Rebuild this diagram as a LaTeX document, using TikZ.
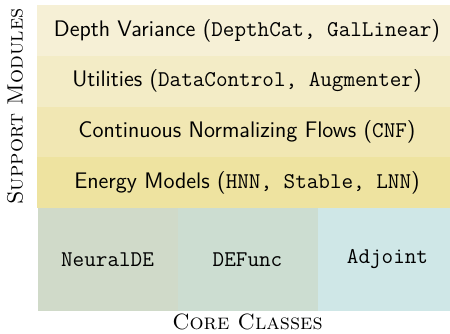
\documentclass[tikz,border=0pt]{standalone}
\begin{document}
\begin{tikzpicture}[x=0.5pt,y=-0.5pt,
  every node/.style={font=\fontsize{11.05}{13.3}\selectfont},
  rowbox/.style={draw=none,minimum width=210pt,minimum height=25.4pt,inner sep=0pt,font=\fontsize{11.25}{13.5}\selectfont\sffamily},
  corebox/.style={draw=none,minimum width=70pt,minimum height=51.5pt,inner sep=0pt,font=\fontsize{11.25}{13.5}\selectfont\ttfamily},
  sidelabel/.style={font=\fontsize{11.05}{13.3}\selectfont\rmfamily\scshape,inner sep=0pt}]
\definecolor{rowa}{HTML}{F6F0D6}
\definecolor{rowb}{HTML}{F3ECC6}
\definecolor{rowc}{HTML}{F1E7B3}
\definecolor{rowd}{HTML}{EEE3A0}
\definecolor{corea}{HTML}{D0DAC9}
\definecolor{coreb}{HTML}{CCDDD1}
\definecolor{corec}{HTML}{CFE7E7}
\useasboundingbox (0,0) rectangle (450,333);
\begin{scope}
\clip (0,0) rectangle (450,333);
\node[rowbox,fill=rowa] (dv) at (247,30.4) {Depth Variance (\texttt{DepthCat, GalLinear})};
\node[rowbox,fill=rowb] (ut) at (247,81.2) {Utilities (\texttt{DataControl, Augmenter})};
\node[rowbox,fill=rowc] (cnf) at (247,132) {Continuous Normalizing Flows (\texttt{CNF})};
\node[rowbox,fill=rowd] (em) at (247,182.8) {Energy Models (\texttt{HNN, Stable, LNN})};
\node[corebox,fill=corea] (nde) at (107.5,259.5) {NeuralDE};
\node[corebox,fill=coreb] (def) at (247.5,259.5) {DEFunc};
\node[corebox,fill=corec] (adj) at (387.5,259.5) {Adjoint};
\end{scope}
\node[sidelabel,rotate=90] (sup) at (15,106.5) {Support Modules};
\node[sidelabel] (core) at (247.5,322) {Core Classes};
\end{tikzpicture}
\end{document}
